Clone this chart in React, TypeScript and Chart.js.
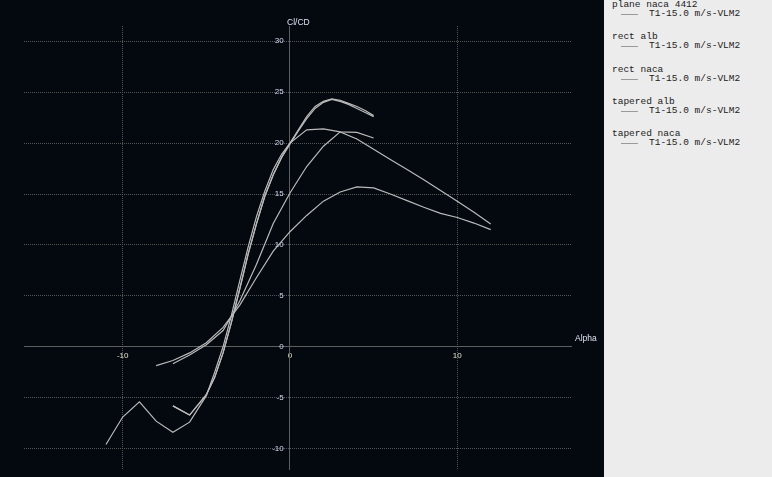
import React, { useEffect, useRef } from "react";
import { Chart, registerables } from "chart.js";

Chart.register(...registerables);

// ---- data ----
const seriesNames = ["plane naca 4412", "rect alb", "rect naca", "tapered alb", "tapered naca"];
const polarName = "T1-15.0 m/s-VLM2";
const xAxisTitle = "Alpha";
const yAxisTitle = "Cl/CD";
const xTickValues = [-10, 0, 10];
const yTickValues = [-10, -5, 0, 5, 10, 15, 20, 25, 30];

const alphaPlane = [-11, -10, -9, -8, -7, -6, -5, -4.5, -4, -3.5, -3, -2.5, -2, -1.5, -1, -0.5, 0, 0.5, 1, 1.5, 2, 2.5, 3, 3.5, 4, 4.5, 5];
const clcdPlane = [-9.6, -6.9, -5.4, -7.3, -8.4, -7.4, -4.8, -2.5, 0.0, 3.1, 6.5, 9.8, 12.8, 15.3, 17.4, 18.9, 20.0, 21.3, 22.6, 23.6, 24.1, 24.35, 24.2, 23.9, 23.6, 23.2, 22.7];

const alphaRectAlb = [-7, -6, -5, -4, -3.5, -3, -2, -1, 0, 0.5, 1, 2, 3, 4, 5, 6, 7, 8, 9, 10, 11, 12];
const clcdRectAlb = [-1.66, -0.8, 0.2, 1.6, 3.0, 4.5, 8.1, 12.1, 15.1, 16.4, 17.7, 19.7, 21.1, 20.4, 19.4, 18.4, 17.4, 16.4, 15.35, 14.3, 13.2, 12.05];

const alphaRectNaca = [-7, -6, -5, -4.5, -4, -3.5, -3, -2.5, -2, -1.5, -1, -0.5, 0, 0.5, 1, 1.5, 2, 2.5, 3, 3.5, 4, 4.5, 5];
const clcdRectNaca = [-5.8, -6.7, -4.7, -3.0, -0.6, 2.4, 5.7, 9.1, 12.1, 14.8, 16.9, 18.6, 19.9, 21.2, 22.4, 23.4, 24.0, 24.3, 24.1, 23.8, 23.4, 23.0, 22.6];

const alphaTaperedAlb = [-8, -7, -6, -5, -4, -3, -2, -1, 0, 1, 2, 3, 4, 5, 6, 7, 8, 9, 10, 11, 12];
const clcdTaperedAlb = [-1.85, -1.35, -0.6, 0.4, 1.9, 4.1, 6.8, 9.4, 11.3, 12.9, 14.3, 15.2, 15.7, 15.6, 15.0, 14.35, 13.7, 13.1, 12.7, 12.15, 11.5];

const alphaTaperedNaca = [-7, -6, -5, -4.5, -4, -3.5, -3, -2.5, -2, -1.5, -1, -0.5, 0, 1, 2, 3, 4, 5];
const clcdTaperedNaca = [-5.8, -6.7, -4.7, -3.0, -0.6, 2.4, 5.7, 9.1, 12.1, 14.8, 16.9, 18.6, 20.0, 21.3, 21.4, 21.1, 21.05, 20.5];

const alphaSets = [alphaPlane, alphaRectAlb, alphaRectNaca, alphaTaperedAlb, alphaTaperedNaca];
const clcdSets = [clcdPlane, clcdRectAlb, clcdRectNaca, clcdTaperedAlb, clcdTaperedNaca];

const CURVE = "#bababa";
const BG = "#03090f";

export default function App() {
  const canvasRef = useRef<HTMLCanvasElement | null>(null);

  useEffect(() => {
    const canvas = canvasRef.current;
    if (!canvas) return;
    const chart = new Chart(canvas, {
      type: "scatter",
      data: {
        datasets: seriesNames.map((name, i) => ({
          label: name,
          data: alphaSets[i].map((a, j) => ({ x: a, y: clcdSets[i][j] })),
          showLine: true,
          borderColor: CURVE,
          backgroundColor: CURVE,
          borderWidth: 1.2,
          pointRadius: 0,
          pointHoverRadius: 0,
          tension: 0,
          fill: false,
        })),
      },
      options: {
        responsive: false,
        animation: false,
        events: [],
        layout: { padding: { left: 24, right: 33, top: 26, bottom: 8 } },
        plugins: { legend: { display: false }, tooltip: { enabled: false } },
        scales: {
          x: {
            type: "linear",
            min: -15.9,
            max: 16.8,
            position: { y: 0 } as any,
            afterBuildTicks: (s: any) => {
              s.ticks = xTickValues.map((v) => ({ value: v }));
            },
            grid: {
              color: (c: any) => (c.tick && c.tick.value === 0 ? "rgba(0,0,0,0)" : "#565656"),
              lineWidth: 1,
              drawTicks: false,
            },
            border: { display: true, color: "#5e5e5e", width: 1, dash: [1, 1] },
            ticks: {
              color: "#e4e0d0",
              font: { family: "'Liberation Sans', Arial, sans-serif", size: 8 },
              padding: 4,
              maxRotation: 0,
              autoSkip: false,
            },
          },
          y: {
            type: "linear",
            min: -12,
            max: 31.5,
            position: { x: 0 } as any,
            afterBuildTicks: (s: any) => {
              s.ticks = yTickValues.map((v) => ({ value: v }));
            },
            grid: {
              color: (c: any) => (c.tick && c.tick.value === 0 ? "rgba(0,0,0,0)" : "#565656"),
              lineWidth: 1,
              drawTicks: false,
            },
            border: { display: true, color: "#5e5e5e", width: 1, dash: [1, 1] },
            ticks: {
              color: "#d6dcf2",
              font: { family: "'Liberation Sans', Arial, sans-serif", size: 8 },
              padding: 0,
              autoSkip: false,
              callback: (v: any) => String(v) + "\u2002\u2009\u200a",
            },
          },
        },
      },
    });
    return () => chart.destroy();
  }, []);

  const monoFont = "'Liberation Mono', 'Courier New', monospace";
  const sansFont = "'Liberation Sans', Arial, sans-serif";

  return (
    <div style={{ position: "fixed", left: 0, top: 0, width: 772, height: 477, overflow: "hidden" }}>
      <div style={{ position: "absolute", left: 0, top: 0, width: 604, height: 477, background: BG }}>
        <canvas ref={canvasRef} width={604} height={477} style={{ display: "block", width: 604, height: 477 }} />
        <div style={{ position: "absolute", left: 287, top: 16, fontFamily: sansFont, fontSize: 8.5, lineHeight: "12px", color: "#dfe2f2", whiteSpace: "nowrap" }}>{yAxisTitle}</div>
        <div style={{ position: "absolute", left: 575, top: 332, fontFamily: sansFont, fontSize: 8.5, lineHeight: "12px", color: "#dfe2f2", whiteSpace: "nowrap" }}>{xAxisTitle}</div>
      </div>
      <div style={{ position: "absolute", left: 604, top: 0, width: 168, height: 477, background: "#ececec" }}>
        {seriesNames.map((name, i) => {
          const top = 0 + 32.25 * i;
          return (
            <React.Fragment key={name}>
              <div style={{ position: "absolute", left: 8, top, fontFamily: monoFont, fontSize: 9.5, lineHeight: "10px", color: "#222", whiteSpace: "pre" }}>{name}</div>
              <div style={{ position: "absolute", left: 17, top: top + 14, width: 17, height: 0, borderTop: "1px solid #9a9a9a" }} />
              <div style={{ position: "absolute", left: 45, top: top + 9, fontFamily: monoFont, fontSize: 9.5, lineHeight: "10px", color: "#222", whiteSpace: "pre" }}>{polarName}</div>
            </React.Fragment>
          );
        })}
      </div>
    </div>
  );
}
